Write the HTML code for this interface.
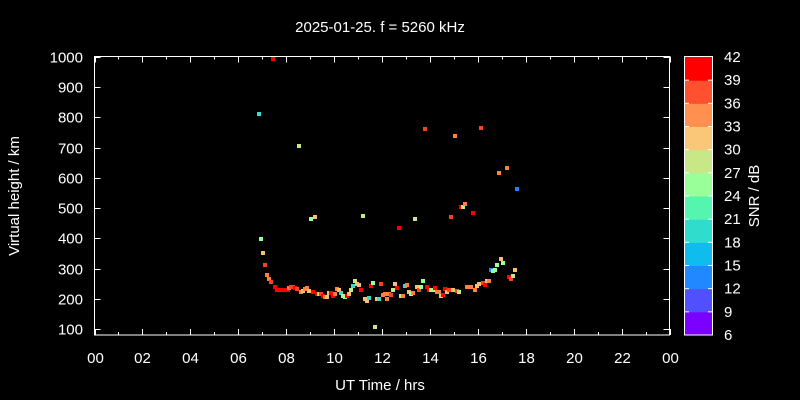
<!DOCTYPE html>
<html><head><meta charset="utf-8"><style>
html,body{margin:0;padding:0;background:#000}
svg{display:block}
text{font-family:"Liberation Sans",sans-serif;fill:#fff}
</style></head><body>
<svg width="800" height="400" xmlns="http://www.w3.org/2000/svg">
<rect width="800" height="400" fill="#000"/>
<text x="380" y="32" font-size="15" text-anchor="middle">2025-01-25. f = 5260 kHz</text>
<text x="380" y="390" font-size="15" text-anchor="middle">UT Time / hrs</text>
<text x="19" y="196" font-size="15" text-anchor="middle" transform="rotate(-90 19 196)">Virtual height / km</text>
<text x="759" y="196" font-size="15" text-anchor="middle" transform="rotate(-90 759 196)">SNR / dB</text>
<g stroke="#fff" stroke-width="1" fill="none">
<rect x="94.5" y="56.5" width="575" height="278.5"/>
</g>
<g stroke="#fff" stroke-width="1" id="ticks"></g>
<g font-size="15" text-anchor="end" id="ylab"></g>
<g font-size="15" text-anchor="middle" id="xlab"></g>
<g id="cbar"></g>
<g id="pts"></g>
<script>
var ns="http://www.w3.org/2000/svg";
function el(p,t,a,txt){var e=document.createElementNS(ns,t);for(var k in a)e.setAttribute(k,a[k]);if(txt!==undefined)e.textContent=txt;document.getElementById(p).appendChild(e);}
var x0=94.5,x1=669.5,yb=335,yt=56.5;
function Y(v){return 57+(1000-v)*272/900;}
for(var v=100;v<=1000;v+=100){var y=Math.round(Y(v))+0.5;el('ticks','line',{x1:x0,y1:y,x2:x0+6,y2:y});el('ticks','line',{x1:x1,y1:y,x2:x1-6,y2:y});el('ylab','text',{x:83,y:y+5},String(v));}
for(var h=0;h<=24;h++){var x=Math.round(x0+h*(x1-x0)/24)+0.5;var L=h%2==0?6:3;el('ticks','line',{x1:x,y1:yb,x2:x,y2:yb-L});el('ticks','line',{x1:x,y1:yt,x2:x,y2:yt+L});if(h%2==0){var s=(h%24<10?'0':'')+(h%24);el('xlab','text',{x:x,y:363},s);}}
var cols=['#7a00ff','#5050ff','#2288ff','#10bbee','#30ddcc','#55f5b0','#99ff99','#c8e888','#f8c878','#ff9050','#ff5030','#ff0000'];
var ct=57,cbot=335,ch=(cbot-ct)/12;
for(var i=0;i<12;i++){el('cbar','rect',{x:685,y:cbot-(i+1)*ch,width:27,height:ch+0.5,fill:cols[i]});}
el('cbar','rect',{x:684.5,y:56.5,width:28,height:278.5,fill:'none',stroke:'#fff'});
for(var i=0;i<=12;i++){var y=cbot-i*ch;if(i>0&&i<12){el('cbar','line',{x1:685,y1:y,x2:689,y2:y,stroke:'#fff'});el('cbar','line',{x1:712,y1:y,x2:708,y2:y,stroke:'#fff'});}el('cbar','text',{x:724,y:y+5,'font-size':15},String(6+3*i));}
var R='#ff0000',RO='#ff4020',O='#ff8040',LO='#f8c070',YG='#c8e888',G='#99ff99',C='#33ddcc',B='#2080ff';
var P=[[273,59,R],[259,114,C],[299,146,YG],[311,219,G],[315,217,LO],[363,216,YG],[415,219,YG],[399,228,R],[425,129,RO],[455,136,O],[481,128,RO],[461,207,R],[463,207,YG],[465,204,O],[451,217,RO],[473,213,R],[499,173,O],[507,168,O],[517,189,B],[261,239,G],[263,253,LO],
[265,265,RO],[267,275,O],[269,279,O],[271,282,RO],[275,287,R],[277,290,R],[280,290,R],[283,290,R],[286,290,R],[288,290,R],[289,288,O],[291,287,RO],[293,287,RO],[295,288,R],[297,289,RO],
[301,292,O],[303,291,LO],[305,289,O],[307,288,O],[309,291,LO],[313,292,R],[317,294,R],[319,294,YG],[321,294,RO],[323,296,R],[325,297,O],[327,297,LO],[329,293,LO],[331,293,R],[333,296,R],[335,294,O],
[337,289,O],[339,290,LO],[341,293,C],[343,296,YG],[345,297,G],[347,296,R],[349,294,LO],[351,290,YG],[353,286,C],[355,281,YG],[357,284,LO],[359,285,LO],[361,290,R],[365,299,LO],[367,301,LO],[369,298,C],[371,286,R],[373,283,G],[375,327,YG],[377,299,LO],[379,299,C],[381,284,RO],
[383,295,O],[385,294,O],[387,299,O],[389,294,O],[391,295,RO],[393,290,YG],[395,284,LO],[397,288,R],[401,296,YG],[403,296,O],[405,286,C],[407,285,O],[409,292,LO],[411,294,G],[413,293,O],[417,287,LO],[419,290,RO],[421,287,G],[423,281,G],
[427,287,R],[429,290,R],[431,290,YG],[433,290,YG],[435,288,R],[437,292,O],[439,292,O],[441,296,LO],[443,295,R],[445,289,R],[447,292,LO],[449,290,RO],[453,290,LO],[457,291,RO],[459,292,YG],
[467,287,O],[469,287,O],[471,287,O],[475,290,O],[477,286,LO],[479,284,LO],[483,283,RO],[485,285,R],[487,281,LO],[489,281,O],[491,270,B],[493,271,G],[495,270,G],[497,265,G],[501,259,LO],[503,263,G],[509,277,R],[511,279,RO],[513,276,YG],[515,270,LO]];
P.forEach(function(p){el('pts','rect',{x:p[0]-2,y:p[1]-2,width:4,height:4,fill:p[2]});});
</script>
</svg>
</body></html>
